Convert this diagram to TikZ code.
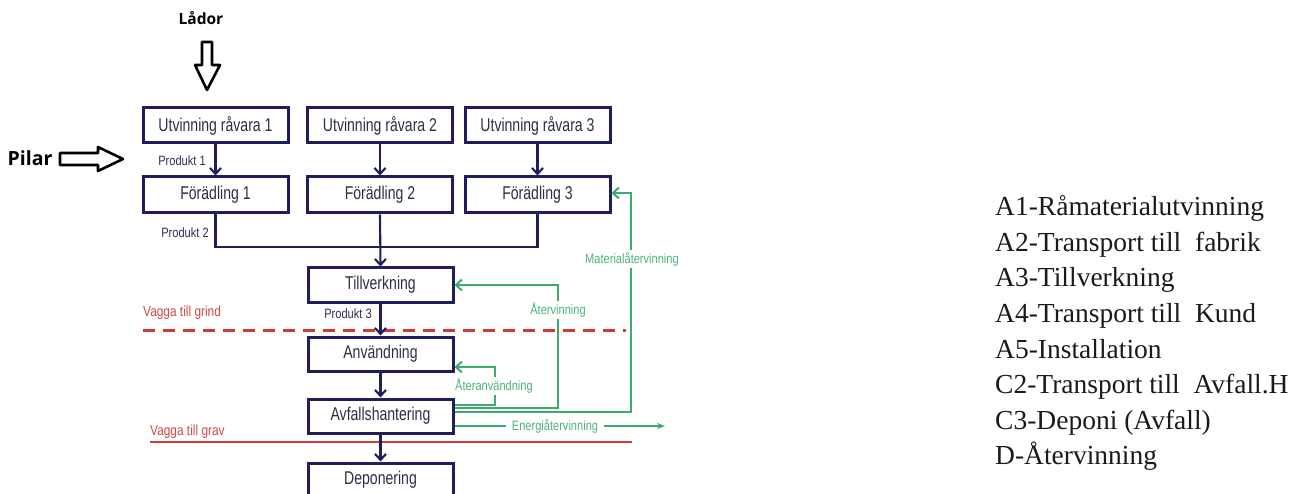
\documentclass[tikz,border=0pt]{standalone}
\usepackage{fontspec}
\setmainfont{Liberation Serif}
\newfontfamily\boxfont[FakeStretch=0.76]{Liberation Sans}
\newfontfamily\lblfont[FakeStretch=0.82]{Liberation Sans}
\newfontfamily\headfont{Open Sans}
\usetikzlibrary{arrows.meta}
\definecolor{navy}{HTML}{1E1E5A}
\definecolor{boxtxt}{HTML}{2E2E44}
\definecolor{prodtxt}{HTML}{2F2F55}
\definecolor{gline}{HTML}{3DAA6E}
\definecolor{gtxt}{HTML}{4DB37E}
\definecolor{rline}{HTML}{D33A3A}
\definecolor{rtxt}{HTML}{CC4A4A}
\definecolor{legtxt}{HTML}{1A1A1A}
\begin{document}
\begin{tikzpicture}[x=1pt,y=-1pt,
  stagebox/.style={draw=navy, line width=3pt, fill=white, minimum width=145pt,
    minimum height=35pt, inner sep=0pt, text=boxtxt, font=\boxfont\fontsize{18.5}{20}\selectfont},
  flow/.style={draw=navy, line width=2.1pt, -{Straight Barb[length=6pt,width=11pt,line width=2.1pt]}},
  plain/.style={draw=navy, line width=2.1pt},
  prodlbl/.style={text=prodtxt, font=\lblfont\fontsize{13.5}{14}\selectfont, inner sep=1pt},
  gflow/.style={draw=gline, line width=2pt, -{Straight Barb[length=6pt,width=11pt,line width=2pt]}},
  gsmall/.style={draw=gline, line width=2pt, -{Stealth[length=8pt,width=6pt]}},
  glbl/.style={text=gtxt, fill=white, font=\lblfont\fontsize{13.5}{14}\selectfont, inner sep=2pt},
  rlbl/.style={text=rtxt, font=\lblfont\fontsize{14.5}{15}\selectfont, inner sep=0pt, anchor=west},
  legend/.style={text=legtxt, font=\fontsize{27.5}{30}\selectfont, anchor=base west, inner sep=0pt},
  bigword/.style={font=\headfont\bfseries, text=black, inner sep=0pt},
  blockarrow/.style={draw=black, line width=2.6pt, fill=white, line join=round}
]
\useasboundingbox (0,0) rectangle (1306,494);
\fill[white] (0,0) rectangle (1306,494);

% red boundary lines
\coordinate (gr1) at (143,330);
\coordinate (gr2) at (626,330);
\coordinate (gv1) at (150,442);
\coordinate (gv2) at (632,442);
\draw[rline, line width=3pt, dash pattern=on 12pt off 8pt] (gr1) -- (gr2);
\draw[rline, line width=2.6pt] (gv1) -- (gv2);
\node[rlbl] (vgrind) at (143,313) {Vagga till grind};
\node[rlbl] (vgrav) at (150,432) {Vagga till grav};

% boxes
\node[stagebox] (u1) at (215.5,125.5) {Utvinning råvara 1};
\node[stagebox] (u2) at (380,125.5) {Utvinning råvara 2};
\node[stagebox] (u3) at (537.5,125.5) {Utvinning råvara 3};
\node[stagebox, minimum height=36pt] (f1) at (215.5,195) {Förädling 1};
\node[stagebox, minimum height=36pt] (f2) at (380,195) {Förädling 2};
\node[stagebox, minimum height=36pt] (f3) at (537.5,195) {Förädling 3};
\node[stagebox, minimum height=34pt] (till) at (380.5,285) {Tillverkning};
\node[stagebox, minimum height=34pt] (anv) at (380.5,354) {Användning};
\node[stagebox, minimum height=34pt] (avf) at (380.5,416) {Avfallshantering};
\node[stagebox, minimum height=34pt] (dep) at (380.5,480) {Deponering};

% navy flows
\draw[flow] (u1) -- (f1);
\draw[flow] (u2) -- (f2);
\draw[flow] (u3) -- (f3);
\coordinate (j) at (380,247);
\draw[plain] (f1.south) |- (j) -| (f3.south);
\draw[flow] (f2.south) -- (till.north);
\draw[flow] (till) -- (anv);
\draw[flow] (anv) -- (avf);
\draw[flow] (avf) -- (dep);

\node[prodlbl] (p1) at (182,161) {Produkt 1};
\node[prodlbl] (p2) at (185,233) {Produkt 2};
\node[prodlbl] (p3) at (348,314) {Produkt 3};

% green loops
\coordinate (ra) at (495,367);
\coordinate (rv) at (558,285);
\coordinate (rm) at (631,193);
\coordinate (re) at (665,426);
\draw[gflow] (avf.east |- 0,405) -| (ra) -- (anv.east |- ra);
\node[glbl] (lra) at (494,386) {Återanvändning};
\draw[gflow] (avf.east |- 0,408) -| (rv) -- (till.east |- rv);
\node[glbl] (lrv) at (558,310) {Återvinning};
\draw[gflow] (avf.east |- 0,412) -| (rm) -- (f3.east |- rm);
\node[glbl] (lrm) at (632,259) {Materialåtervinning};
\draw[gsmall] (avf.east |- re) -- (re);
\node[glbl, inner xsep=6pt] (lre) at (555,426) {Energiåtervinning};

% headings with block arrows
\node[bigword, font=\headfont\bfseries\fontsize{15.5}{17}\selectfont] (lador) at (201,18) {Lådor};
\node[bigword, font=\headfont\bfseries\fontsize{19.5}{21}\selectfont] (pilar) at (30,158) {Pilar};
\draw[blockarrow] (202,42) -- (212,42) -- (212,65) -- (220,65) -- (207,90) -- (195,65) -- (202,65) -- cycle;
\draw[blockarrow] (60,153) -- (98,153) -- (98,147) -- (123,159) -- (98,171) -- (98,165) -- (60,165) -- cycle;

% legend
\node[legend] (l1) at (995,216) {A1-Råmaterialutvinning};
\node[legend] (l2) at (995,251.5) {A2-Transport till\ \ fabrik};
\node[legend] (l3) at (995,287) {A3-Tillverkning};
\node[legend] (l4) at (995,322.5) {A4-Transport till\ \ Kund};
\node[legend] (l5) at (995,358) {A5-Installation};
\node[legend] (l6) at (995,393.5) {C2-Transport till\ \ Avfall.H};
\node[legend] (l7) at (995,429) {C3-Deponi (Avfall)};
\node[legend] (l8) at (995,464.5) {D-Återvinning};
\end{tikzpicture}
\end{document}
